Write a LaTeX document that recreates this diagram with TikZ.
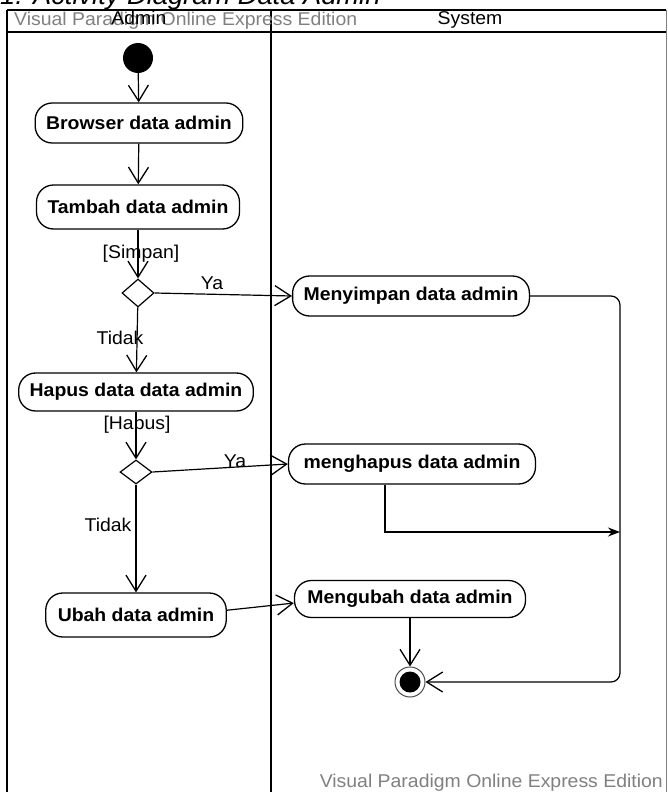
\documentclass[tikz,border=0pt]{standalone}
\usepackage{fontspec}
\setmainfont{Liberation Sans}[FakeStretch=1.05]
\usetikzlibrary{shapes.geometric,arrows.meta,positioning}

\newcommand{\actfont}{\fontsize{18.5}{22}\selectfont\bfseries}
\newcommand{\lblfont}{\fontsize{18.5}{22}\selectfont}

\tikzset{
    activity/.style={draw, line width=1.3pt, rounded corners=17pt, minimum height=40pt,
        inner xsep=11pt, font=\actfont},
    decision/.style={draw, diamond, line width=1.2pt, minimum width=32pt, minimum height=28pt,
        inner sep=0pt},
    guard/.style={font=\lblfont, inner sep=0pt},
    flow/.style={line width=1.2pt, -{Straight Barb[length=16pt, width=20pt, line width=1.3pt]}},
    mergeflow/.style={line width=1.2pt, -{Stealth[length=12pt, width=9pt]}},
    watermark/.style={font=\lblfont, text=black!50, inner sep=0pt}
}

\begin{document}
\begin{tikzpicture}[x=1pt, y=-1pt]
    \useasboundingbox (0,0) rectangle (668,792);

    % Title - cut off at the top
    \node[anchor=base west, inner sep=0pt, font=\fontsize{26}{30}\selectfont\itshape] (title) at (0,5)
        {1. Activity Diagram Data Admin};

    % Swimlanes
    \draw[black!50, line width=1pt] (666,10) -- (666,792);
    \draw[line width=2pt] (7,10) -- (666,10);
    \draw[line width=2.2pt] (7,32) -- (666,32);
    \draw[line width=2pt] (7,10) -- (7,792);
    \draw[line width=2.6pt] (271,10) -- (271,792);
    \node[watermark, anchor=west] (wmtop) at (14,21) {Visual Paradigm Online Express Edition};
    \node[font=\lblfont, inner sep=0pt] (laneadmin) at (139,18) {Admin};
    \node[font=\lblfont, inner sep=0pt] (lanesystem) at (470,20) {System};
    \node[watermark, anchor=east] (wmbottom) at (663,783) {Visual Paradigm Online Express Edition};

    % Admin lane
    \node[circle, fill=black, minimum size=30pt, inner sep=0pt] (start) at (138,58) {};
    \node[activity, minimum width=202pt] (browse) at (139,123) {Browser data admin};
    \node[activity, minimum height=44pt] (tambah) at (138,207) {Tambah data admin};
    \node[decision] (cekSimpan) at (138,293) {};
    \node[activity, minimum height=38pt] (hapus) at (136,392) {Hapus data data admin};
    \node[decision, minimum height=24pt] (cekHapus) at (136,472) {};
    \node[activity, minimum height=44pt, inner xsep=12pt] (ubah) at (136,615) {Ubah data admin};

    % System lane
    \node[activity, inner xsep=11pt] (simpanSys) at (411,296) {Menyimpan data admin};
    \node[activity, inner xsep=15pt] (hapusSys) at (412,464) {menghapus data admin};
    \node[activity, minimum height=37pt, inner xsep=13pt] (ubahSys) at (410,599) {Mengubah data admin};
    \node[circle, draw, black!70, line width=1pt, minimum size=30pt, inner sep=0pt] (finish) at (410,682) {};
    \node[circle, fill=black, minimum size=21pt, inner sep=0pt] (finishDot) at (finish) {};

    % Guards
    \node[guard] (lblSimpan) at (141,254) {[Simpan]};
    \node[guard] (lblYa1) at (212,283) {Ya};
    \node[guard] (lblTidak1) at (120,338) {Tidak};
    \node[guard] (lblHapus) at (137,425) {[Hapus]};
    \node[guard] (lblYa2) at (235,461) {Ya};
    \node[guard] (lblTidak2) at (108,525) {Tidak};

    % Merge points
    \coordinate (mergeTop) at (620,296);
    \coordinate (mergeBot) at (620,682);
    \coordinate (joinIn) at (620,532);
    \coordinate (hapusOut) at ([xshift=-27pt]hapusSys.south);

    % Flows
    \draw[flow] (start) -- (browse);
    \draw[flow] (browse) -- (tambah);
    \draw[flow] (tambah) -- (cekSimpan);
    \draw[flow] (cekSimpan.east) -- (simpanSys.west);
    \draw[flow] (cekSimpan) -- (hapus);
    \draw[flow] (hapus) -- (cekHapus);
    \draw[flow] (cekHapus.east) -- (hapusSys.west);
    \draw[flow] (cekHapus) -- (ubah);
    \draw[flow] (ubah.3) -- (ubahSys.182);
    \draw[flow] (ubahSys) -- (finish);
    \draw[flow, rounded corners=9pt] (simpanSys.east) -- (mergeTop) -- (mergeBot) -- (finish.east);
    \draw[mergeflow] (hapusOut) |- (joinIn);
\end{tikzpicture}
\end{document}
